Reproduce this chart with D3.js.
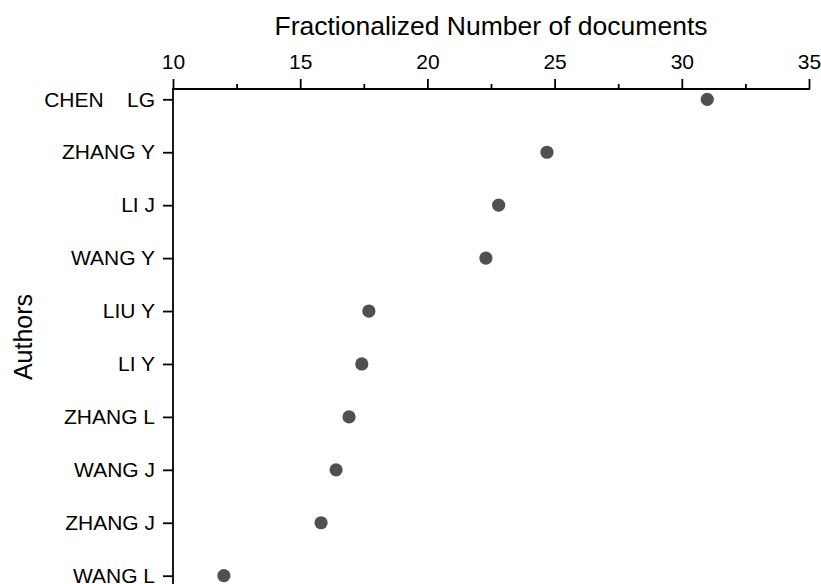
<!DOCTYPE html>
<html>
<head>
<meta charset="utf-8">
<script src="https://cdn.jsdelivr.net/npm/d3@7"></script>
<style>
  html, body { margin: 0; padding: 0; background: #fff; }
  svg { display: block; }
  text { font-family: "Liberation Sans", Arial, Helvetica, sans-serif; fill: #000; }
</style>
</head>
<body>
<svg id="chart" width="821" height="584"></svg>
<script>
const authors = ["CHEN    LG", "ZHANG Y", "LI J", "WANG Y", "LIU Y", "LI Y", "ZHANG L", "WANG J", "ZHANG J", "WANG L"];
const docs = [31.0, 24.7, 22.8, 22.3, 17.7, 17.42, 16.92, 16.41, 15.82, 12.0];
const xMajorTicks = [10, 15, 20, 25, 30, 35];
const xMinorTicks = [12.5, 17.5, 22.5, 27.5, 32.5];
const xTitle = "Fractionalized Number of documents";
const yTitle = "Authors";

const svg = d3.select("#chart");
const mLeft = 173, mRight = 809, mTop = 89, bottomExt = 600;

const x = d3.scaleLinear().domain([10, 35]).range([mLeft, mRight]);
const y = d3.scalePoint().domain(authors).range([99.3, 575.7]);

const ink = "#000";
const sw = 1.8;
const tickFont = 21;

// top axis: major
const gxMaj = svg.append("g").attr("transform", `translate(0,${mTop})`)
  .call(d3.axisTop(x).tickValues(xMajorTicks).tickSize(10).tickPadding(10).tickSizeOuter(0).tickFormat(d3.format("d")));
gxMaj.select(".domain").remove();
gxMaj.selectAll(".tick line").attr("stroke", ink).attr("stroke-width", sw);
gxMaj.selectAll(".tick text").attr("font-size", tickFont).style("font-family", '"Liberation Sans", Arial, sans-serif').attr("fill", ink);

// top axis: minor
const gxMin = svg.append("g").attr("transform", `translate(0,${mTop})`)
  .call(d3.axisTop(x).tickValues(xMinorTicks).tickSize(5).tickFormat(""));
gxMin.select(".domain").remove();
gxMin.selectAll(".tick line").attr("stroke", ink).attr("stroke-width", sw);

// left axis
const gy = svg.append("g").attr("transform", `translate(${mLeft},0)`)
  .call(d3.axisLeft(y).tickSize(10).tickPadding(8).tickSizeOuter(0));
gy.select(".domain").remove();
gy.selectAll(".tick line").attr("stroke", ink).attr("stroke-width", sw);
gy.selectAll(".tick text").attr("font-size", tickFont).style("font-family", '"Liberation Sans", Arial, sans-serif')
  .attr("fill", ink).style("white-space", "pre").attr("xml:space", "preserve");

// axis lines
svg.append("line").attr("x1", x(10)).attr("x2", x(35)).attr("y1", mTop).attr("y2", mTop)
  .attr("stroke", ink).attr("stroke-width", sw).attr("stroke-linecap", "square");
svg.append("line").attr("x1", x(10)).attr("x2", x(10)).attr("y1", mTop).attr("y2", bottomExt)
  .attr("stroke", ink).attr("stroke-width", sw);

// points
svg.append("g").selectAll("circle").data(authors).join("circle")
  .attr("cx", (d, i) => x(docs[i]))
  .attr("cy", d => y(d))
  .attr("r", 6.6)
  .attr("fill", "#505050");

// titles
svg.append("text").attr("x", (mLeft + mRight) / 2).attr("y", 35)
  .attr("text-anchor", "middle").attr("font-size", 26.5).text(xTitle);
svg.append("text").attr("transform", `translate(32,337) rotate(-90)`)
  .attr("text-anchor", "middle").attr("font-size", 25).text(yTitle);
</script>
</body>
</html>
